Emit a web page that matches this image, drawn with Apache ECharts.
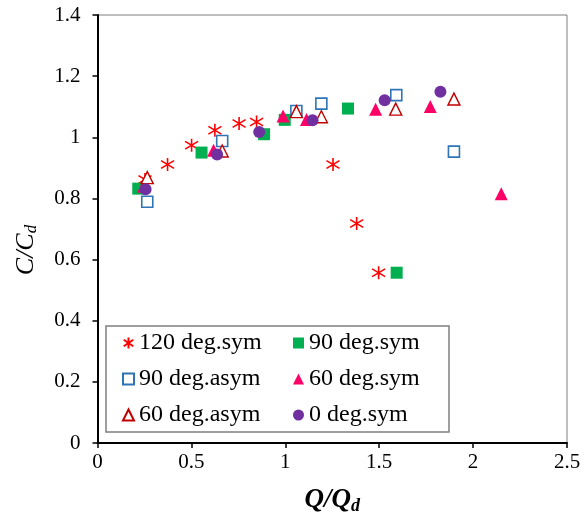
<!DOCTYPE html>
<html>
<head>
<meta charset="utf-8">
<script src="https://cdn.jsdelivr.net/npm/echarts@6/dist/echarts.min.js"></script>
<style>html,body{margin:0;padding:0;background:#fff}#c{width:587px;height:513px}</style>
</head>
<body>
<div id="c"></div>
<script>
var seriesNames = ['120 deg.sym', '90 deg.sym', '90 deg.asym', '60 deg.sym', '60 deg.asym', '0 deg.sym'];
var s120sym = [[0.253,0.862],[0.373,0.911],[0.501,0.974],[0.625,1.023],[0.754,1.045],[0.847,1.050],[1.254,0.911],[1.380,0.718],[1.497,0.557]];
var s90sym = [[0.217,0.832],[0.554,0.950],[0.887,1.010],[0.997,1.057],[1.334,1.094],[1.593,0.557]];
var s90asym = [[0.265,0.789],[0.664,0.988],[1.059,1.086],[1.192,1.110],[1.591,1.138],[1.898,0.953]];
var s60sym = [[0.245,0.840],[0.618,0.958],[0.988,1.070],[1.113,1.058],[1.481,1.092],[1.772,1.101],[2.150,0.815]];
var s60asym = [[0.265,0.868],[0.664,0.955],[1.059,1.084],[1.192,1.067],[1.588,1.092],[1.898,1.125]];
var s0sym = [[0.256,0.830],[0.637,0.944],[0.861,1.017],[1.145,1.056],[1.529,1.121],[1.826,1.149]];
var xTicks = [0, 0.5, 1, 1.5, 2, 2.5];
var yTicks = [0, 0.2, 0.4, 0.6, 0.8, 1, 1.2, 1.4];

var FONT = '"Liberation Serif", "Times New Roman", serif';
var asterisk = 'path://M0,-1L0,1M-0.87,-0.6L0.87,0.6M-0.87,0.6L0.87,-0.6';

function sc(name, data, symbol, size, style) {
  style.opacity = 1;
  return { name: name, type: 'scatter', data: data, symbol: symbol, symbolSize: size, itemStyle: style, emphasis: {disabled: true} };
}

var chart = echarts.init(document.getElementById('c'), null, {renderer: 'canvas'});
var legendText = { fontFamily: FONT, fontSize: 24, color: '#000', lineHeight: 26, width: 128 };
chart.setOption({
  animation: false,
  backgroundColor: '#fff',
  grid: { left: 97.5, right: 20, top: 15, bottom: 70, show: true, borderColor: '#7f7f7f', borderWidth: 1,
          containLabel: false, outerBoundsMode: 'none' },
  xAxis: {
    type: 'value', min: xTicks[0], max: xTicks[xTicks.length-1], interval: 0.5,
    name: '{a|Q/Q}{b|d}', nameLocation: 'middle', nameGap: 42,
    nameTextStyle: { rich: {
      a: { fontFamily: FONT, fontSize: 27, fontWeight: 'bold', fontStyle: 'italic', color: '#000' },
      b: { fontFamily: FONT, fontSize: 18, fontWeight: 'bold', fontStyle: 'italic', color: '#000', verticalAlign: 'bottom', padding: [12,0,0,0] } } },
    axisLine: { show: true, onZero: false, lineStyle: { color: '#000', width: 2 } },
    axisTick: { show: true, inside: false, length: 5, lineStyle: { color: '#000', width: 1.5 } },
    axisLabel: { fontFamily: FONT, fontSize: 21, color: '#000', margin: 9 },
    splitLine: { show: false }
  },
  yAxis: {
    type: 'value', min: yTicks[0], max: yTicks[yTicks.length-1], interval: 0.2,
    name: '{a|C/C}{b|d}', nameLocation: 'middle', nameGap: 57, nameRotate: 90,
    nameTextStyle: { padding: [0, 42, 0, 0], rich: {
      a: { fontFamily: FONT, fontSize: 26, fontStyle: 'italic', color: '#000' },
      b: { fontFamily: FONT, fontSize: 17, fontStyle: 'italic', color: '#000', padding: [11,0,0,0] } } },
    axisLine: { show: true, onZero: false, lineStyle: { color: '#000', width: 2 } },
    axisTick: { show: true, inside: false, length: 5, lineStyle: { color: '#000', width: 1.5 } },
    axisLabel: { fontFamily: FONT, fontSize: 21, color: '#000', margin: 17,
      formatter: function(v){ return String(Math.round(v*10)/10); } },
    splitLine: { show: false }
  },
  legend: [
    { data: [seriesNames[0], seriesNames[2], seriesNames[4]], orient: 'vertical', left: 106, top: 326,
      padding: [4, 182, 4, 16], itemGap: 10, itemWidth: 11, itemHeight: 11, itemTextGap: 5,
      borderColor: '#7f7f7f', borderWidth: 1.5, backgroundColor: '#fff', textStyle: legendText, selectedMode: false },
    { data: [seriesNames[1], seriesNames[3], seriesNames[5]], orient: 'vertical', left: 278, top: 326,
      padding: [4, 0, 4, 15], itemGap: 10, itemWidth: 11, itemHeight: 11, itemTextGap: 5,
      textStyle: legendText, selectedMode: false }
  ],
  series: [
    sc(seriesNames[0], s120sym, asterisk, 13, { color: 'rgba(0,0,0,0)', borderColor: '#ff0000', borderWidth: 1.6 }),
    sc(seriesNames[1], s90sym, 'rect', 12, { color: '#00b050' }),
    sc(seriesNames[2], s90asym, 'rect', 11, { color: '#fff', borderColor: '#2e75b6', borderWidth: 1.6 }),
    sc(seriesNames[3], s60sym, 'triangle', 13, { color: '#ff0066' }),
    sc(seriesNames[4], s60asym, 'triangle', 12, { color: '#fff', borderColor: '#c00000', borderWidth: 1.4 }),
    sc(seriesNames[5], s0sym, 'circle', 12, { color: '#7030a0' })
  ]
});
</script>
</body>
</html>
